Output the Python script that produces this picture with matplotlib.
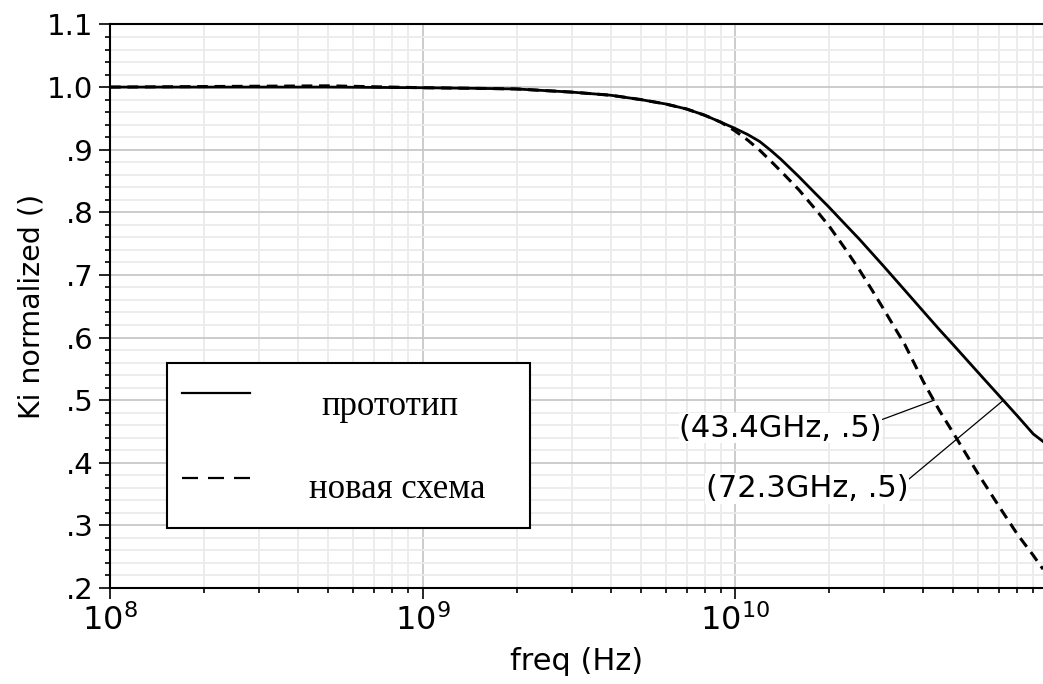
import matplotlib
matplotlib.use("Agg")
import matplotlib.pyplot as plt
from matplotlib.ticker import LogLocator, MultipleLocator, FixedLocator, FixedFormatter, NullFormatter
from matplotlib.patches import Rectangle
from matplotlib.lines import Line2D

# данные
freq = [1e8, 5e8, 1e9, 1.5e9, 2e9, 3e9, 4e9, 5e9, 6e9, 7e9, 8e9, 9e9, 1e10,
        1.1e10, 1.2e10, 1.3e10, 1.4e10, 1.6e10, 1.8e10, 2e10, 2.25e10, 2.5e10, 2.75e10,
        3e10, 3.5e10, 4e10, 4.5e10, 5e10, 6e10, 7e10, 8e10, 9e10, 9.67e10]
ki_proto = [1.0, 1.0, 0.999, 0.998, 0.997, 0.992, 0.987, 0.980, 0.973, 0.965, 0.955, 0.944, 0.934,
            0.924, 0.913, 0.899, 0.885, 0.857, 0.831, 0.808, 0.781, 0.757, 0.734,
            0.713, 0.675, 0.642, 0.613, 0.588, 0.544, 0.507, 0.475, 0.446, 0.434]
ki_new = [1.0, 1.002, 0.999, 0.998, 0.997, 0.992, 0.987, 0.980, 0.973, 0.965, 0.955, 0.944, 0.930,
          0.915, 0.899, 0.882, 0.866, 0.836, 0.806, 0.778, 0.742, 0.708, 0.675,
          0.644, 0.588, 0.530, 0.484, 0.447, 0.382, 0.330, 0.286, 0.252, 0.230]

yticks = [0.2, 0.3, 0.4, 0.5, 0.6, 0.7, 0.8, 0.9, 1.0, 1.1]
ytick_labels = ['.2', '.3', '.4', '.5', '.6', '.7', '.8', '.9', '1.0', '1.1']
xticks = [1e8, 1e9, 1e10]
xtick_labels = [r'$10^{8}$', r'$10^{9}$', r'$10^{10}$']

legend_labels = ['прототип', 'новая схема']
marks = [(43.4e9, 0.5, '(43.4GHz, .5)', 2.95e10, 0.455),
         (72.3e9, 0.5, '(72.3GHz, .5)', 3.58e10, 0.359)]

fig = plt.figure(figsize=(10.43, 6.84), dpi=100)
ax = fig.add_axes([0.1055, 0.1404, 0.8945, 0.8238])

ax.set_xscale('log')
ax.set_xlim(1e8, 9.67e10)
ax.set_ylim(0.2, 1.1)

ax.plot(freq, ki_proto, color='black', lw=2.0, zorder=4)
ax.plot(freq, ki_new, color='black', lw=2.2, dashes=(3.5, 2.2), zorder=5)

# сетка
ax.xaxis.set_major_locator(FixedLocator(xticks))
ax.xaxis.set_major_formatter(FixedFormatter(xtick_labels))
ax.xaxis.set_minor_locator(LogLocator(base=10, subs=range(2, 10), numticks=20))
ax.xaxis.set_minor_formatter(NullFormatter())
ax.yaxis.set_major_locator(FixedLocator(yticks))
ax.yaxis.set_major_formatter(FixedFormatter(ytick_labels))
ax.yaxis.set_minor_locator(MultipleLocator(0.02))

ax.grid(which='major', color='#c8c8c8', lw=1.3, zorder=0)
ax.grid(which='minor', color='#ebebeb', lw=1.3, zorder=0)
ax.set_axisbelow(True)

ax.tick_params(which='major', direction='out', length=8, width=1.2, labelsize=21, pad=4)
ax.tick_params(axis='x', which='major', labelsize=23)
ax.tick_params(which='minor', direction='out', length=3.5, width=1.2)
ax.spines['right'].set_visible(False)
for s in ['left', 'bottom', 'top']:
    ax.spines[s].set_linewidth(1.5)

ax.set_xlabel('freq (Hz)', fontsize=22, labelpad=7)
ax.set_ylabel('Ki normalized ()', fontsize=20.5, labelpad=1)

# подписи точек пересечения
for fx, fy, txt, tx, ty in marks:
    ax.annotate(txt, xy=(fx, fy), xytext=(tx, ty), ha='right', va='center', fontsize=22,
                bbox=dict(fc='white', ec='none', pad=0.5),
                arrowprops=dict(arrowstyle='-', color='black', lw=0.9, shrinkA=0, shrinkB=0,
                                relpos=(1.0, 0.8)),
                zorder=6)

# легенда
ax.add_patch(Rectangle((0.0611, 0.1065), 0.389, 0.2928, transform=ax.transAxes,
                       fc='white', ec='black', lw=1.5, zorder=7))
ax.add_line(Line2D([0.0772, 0.150], [0.346, 0.346], transform=ax.transAxes,
                   color='black', lw=1.6, zorder=8))
ax.add_line(Line2D([0.0772, 0.150], [0.195, 0.195], transform=ax.transAxes,
                   color='black', lw=1.6, dashes=(7.2, 4.5), zorder=8))
ax.text(0.300, 0.307, legend_labels[0], transform=ax.transAxes, ha='center', va='baseline',
        family='Liberation Serif', fontsize=25, zorder=8)
ax.text(0.3076, 0.160, legend_labels[1], transform=ax.transAxes, ha='center', va='baseline',
        family='Liberation Serif', fontsize=25, zorder=8)

fig.savefig('out.png', dpi=100)
